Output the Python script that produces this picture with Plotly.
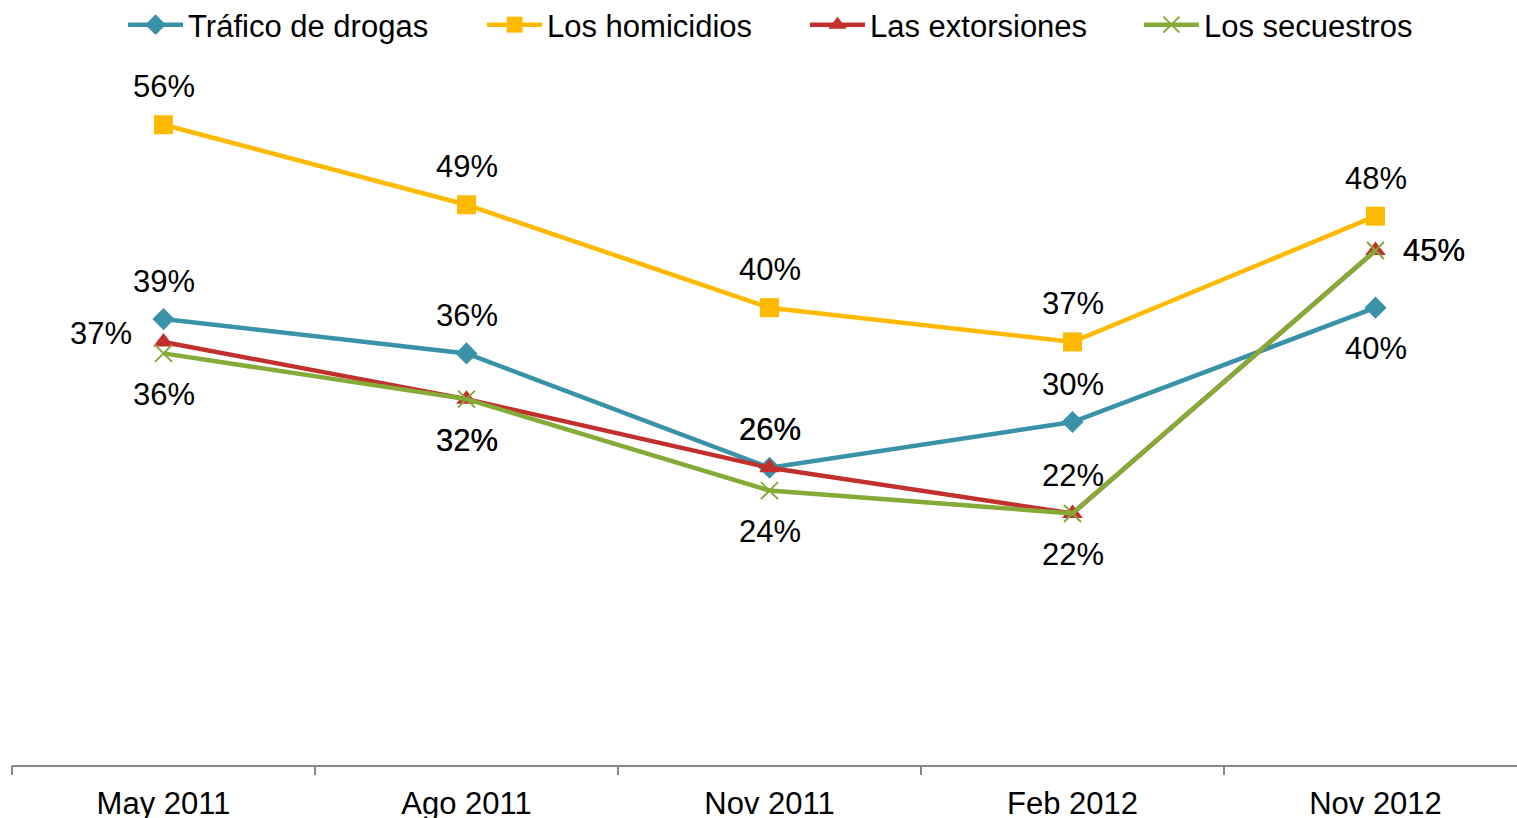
import plotly.graph_objects as go

categories = ["May 2011", "Ago 2011", "Nov 2011", "Feb 2012", "Nov 2012"]
trafico = [39, 36, 26, 30, 40]
homicidios = [56, 49, 40, 37, 48]
extorsiones = [37, 32, 26, 22, 45]
secuestros = [36, 32, 24, 22, 45]

series_names = ["Tráfico de drogas", "Los homicidios", "Las extorsiones", "Los secuestros"]
series_values = [trafico, homicidios, extorsiones, secuestros]
colors = ["#3A92A9", "#FFBA00", "#C2302E", "#84AB37"]
symbols = ["diamond", "square", "triangle-up", "x-thin-open"]
msizes = [17, 19, 18, 17]
legend_ids = ["legend", "legend2", "legend3", "legend4"]
legend_x = [0.0738, 0.3123, 0.5269, 0.7488]
# label placement per point: 'u' above, 'd' below, 'l' left, 'r' right
placements = [
    ["u", "u", "u", "u", "d"],
    ["u", "u", "u", "u", "u"],
    ["l", "d", "u", "u", "r"],
    ["d", "d", "d", "d", "r"],
]

FONT = "Liberation Sans, Arial, sans-serif"
FS = 31
xidx = list(range(len(categories)))

fig = go.Figure()
annotations = []
shift = {"u": (0, 38), "d": (0, -41), "l": (-63, 8), "r": (58, 0)}
for name, vals, col, sym, ms, plc, lid in zip(series_names, series_values, colors, symbols,
                                              msizes, placements, legend_ids):
    marker = dict(symbol=sym, size=ms, color=col)
    if sym.startswith("x-thin"):
        marker["line"] = dict(color=col, width=2)
    fig.add_trace(go.Scatter(
        x=xidx, y=vals, name=name, mode="lines+markers", legend=lid,
        line=dict(color=col, width=4.5), marker=marker,
    ))
    for xi, v, p in zip(xidx, vals, plc):
        dx, dy = shift[p]
        annotations.append(dict(
            x=xi, y=v, xref="x", yref="y", text=f"{v}%", showarrow=False,
            xanchor="center", yanchor="middle", xshift=dx, yshift=dy,
            font=dict(family=FONT, size=FS, color="#000000"),
        ))

# invisible trace to anchor secondary tick axis
fig.add_trace(go.Scatter(x=[], y=[], xaxis="x2", showlegend=False, hoverinfo="skip"))

legend_common = dict(orientation="h", xanchor="left", y=1.0787, yanchor="middle",
                     font=dict(family=FONT, size=FS, color="#000000"), itemwidth=55,
                     bgcolor="rgba(0,0,0,0)")
legend_layout = {lid: dict(x=lx, **legend_common) for lid, lx in zip(legend_ids, legend_x)}

fig.update_layout(
    width=1517, height=818,
    margin=dict(l=12, r=0, t=79, b=53, autoexpand=False),
    paper_bgcolor="white", plot_bgcolor="white",
    font=dict(family=FONT, size=FS, color="#000000"),
    showlegend=True,
    xaxis=dict(range=[-0.5, 4.467], tickmode="array", tickvals=xidx, ticktext=categories,
               showline=True, linecolor="#878787", linewidth=1.5, showgrid=False, zeroline=False,
               ticks="outside", ticklen=10, tickcolor="rgba(0,0,0,0)", automargin=False,
               tickfont=dict(family=FONT, size=FS, color="#000000")),
    xaxis2=dict(range=[-0.5, 4.467], overlaying="x", anchor="y", side="bottom",
                tickmode="array", tickvals=[i - 0.5 for i in xidx] + [len(categories) - 0.5],
                ticks="outside", ticklen=9, tickcolor="#878787", tickwidth=1.5, automargin=False,
                showticklabels=False, showline=False, showgrid=False, zeroline=False),
    yaxis=dict(range=[0, 60], visible=False, showgrid=False, zeroline=False, automargin=False),
    annotations=annotations,
    **legend_layout,
)

fig.write_html(
    "out.html",
    config={"displayModeBar": False},
    post_script="document.body.style.margin='0';document.body.style.overflow='hidden';",
)
